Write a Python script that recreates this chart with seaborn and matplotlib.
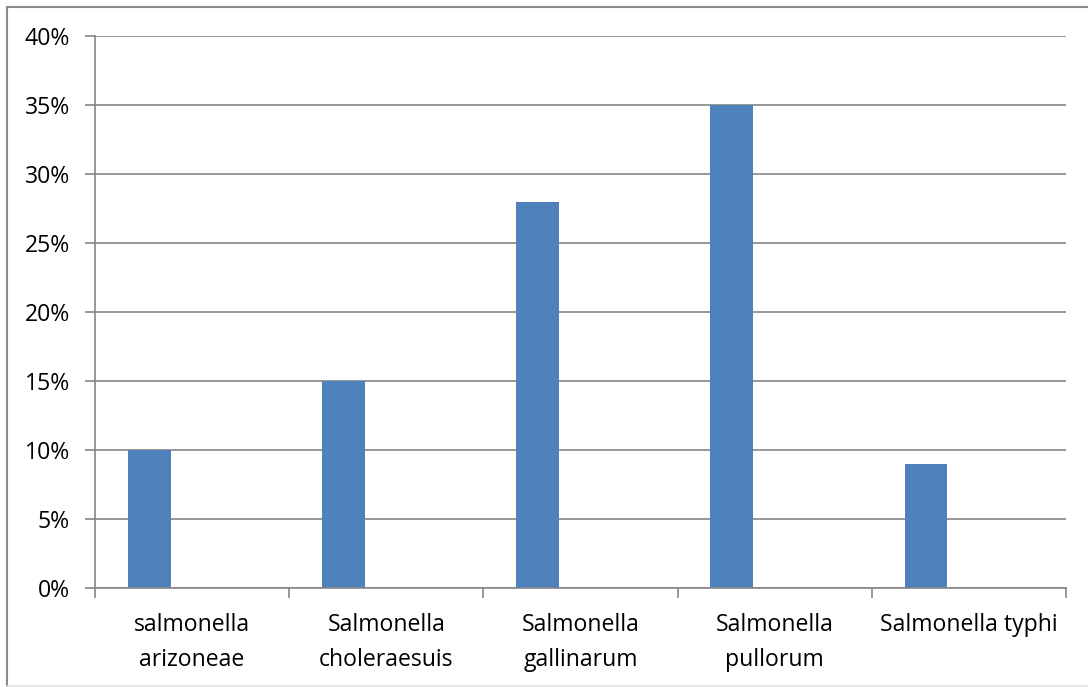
import numpy as np
import pandas as pd
import matplotlib
matplotlib.use("Agg")
import matplotlib.pyplot as plt
from matplotlib.lines import Line2D
from matplotlib.ticker import FixedLocator, PercentFormatter
import seaborn as sns

# Share of isolates per Salmonella serovar
categories = [
    "salmonella\narizoneae",
    "Salmonella\ncholeraesuis",
    "Salmonella\ngallinarum",
    "Salmonella\npullorum",
    "Salmonella typhi",
]
shares = [0.10, 0.15, 0.28, 0.35, 0.09]
series_names = ["Series1", "Series2", "Series3"]

# Long-form table: only the first series holds values, the others keep their slots empty
rows = []
for cat, val in zip(categories, shares):
    rows.append({"category": cat, "series": series_names[0], "share": val})
    for s in series_names[1:]:
        rows.append({"category": cat, "series": s, "share": np.nan})
df = pd.DataFrame(rows)

sns.set_theme(style="white")
plt.rcParams["font.family"] = ["Open Sans", "DejaVu Sans"]

W, H, DPI = 1088, 687, 100
fig = plt.figure(figsize=(W / DPI, H / DPI), dpi=DPI)
ax = fig.add_axes([95 / W, 1 - 588 / H, (1066 - 95) / W, (588 - 36) / H])

bar_blue = "#4F81BD"
grid_gray = "#868686"
text_color = "#000000"

sns.barplot(
    data=df, x="category", y="share", hue="series", hue_order=series_names,
    order=categories, palette=[bar_blue] * 3, width=0.663, dodge=True,
    saturation=1, legend=False, ax=ax, errorbar=None,
    edgecolor="none", linewidth=0,
)

ax.set_xlim(-0.5, len(categories) - 0.5)
ax.set_ylim(0, 0.40)
ax.set_xlabel("")
ax.set_ylabel("")

# y axis: percent ticks every 5 % with horizontal gridlines
ax.yaxis.set_major_locator(FixedLocator(np.arange(0, 0.401, 0.05)))
ax.yaxis.set_major_formatter(PercentFormatter(1.0, decimals=0))
ax.grid(axis="y", color=grid_gray, linewidth=1.2)
ax.set_axisbelow(True)

# x axis: tick marks on category boundaries, labels centered on categories
ax.set_xticks(np.arange(-0.5, len(categories), 1.0))
ax.set_xticklabels([])
ax.set_xticks(np.arange(len(categories)), minor=True)
ax.set_xticklabels(categories, minor=True, fontsize=16.6, color=text_color,
                   linespacing=1.6)
ax.tick_params(axis="x", which="major", direction="out", length=7,
               width=1.2, color=grid_gray, bottom=True)
ax.tick_params(axis="x", which="minor", length=0, pad=18)
ax.tick_params(axis="y", direction="out", length=7, width=1.2,
               color=grid_gray, left=True, pad=11, labelsize=16.6,
               labelcolor=text_color)

for side in ["top", "right"]:
    ax.spines[side].set_visible(False)
for side in ["left", "bottom"]:
    ax.spines[side].set_color(grid_gray)
    ax.spines[side].set_linewidth(1.2)

# Chart area frame
fig.add_artist(Line2D([6.5 / W, 6.5 / W], [0, 1 - 6.5 / H],
                      transform=fig.transFigure, color="#8a8a8a", lw=1.5))
fig.add_artist(Line2D([6.5 / W, 1], [1 - 6.5 / H, 1 - 6.5 / H],
                      transform=fig.transFigure, color="#8a8a8a", lw=1.5))
fig.add_artist(Line2D([6.5 / W, 1], [1.2 / H, 1.2 / H],
                      transform=fig.transFigure, color="#e3e3e3", lw=1.2))

fig.savefig("out.png", dpi=DPI, facecolor="white")
